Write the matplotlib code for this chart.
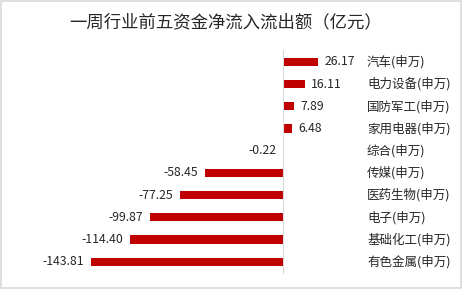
import matplotlib
matplotlib.use('Agg')
import matplotlib.pyplot as plt
from matplotlib.patches import Rectangle

plt.rcParams['font.family'] = ['Noto Sans CJK SC', 'DejaVu Sans']

# 数据
industries = ['汽车(申万)', '电力设备(申万)', '国防军工(申万)', '家用电器(申万)', '综合(申万)',
              '传媒(申万)', '医药生物(申万)', '电子(申万)', '基础化工(申万)', '有色金属(申万)']
values = [26.17, 16.11, 7.89, 6.48, -0.22, -58.45, -77.25, -99.87, -114.40, -143.81]
title = '一周行业前五资金净流入流出额（亿元）'

W, H = 462, 289
fig = plt.figure(figsize=(W / 100, H / 100), dpi=100)
fig.patches.append(Rectangle((0.002, 0.003), 0.996, 0.994, transform=fig.transFigure,
                             fill=False, edgecolor='#d9d9d9', linewidth=1.2))

ax = fig.add_axes([0, 1 - 274 / H, 1, 224 / H])
pos = list(range(len(values)))
ax.barh(pos, values, height=0.37, color='#c00000')
ax.axvline(0, color='#d9d9d9', linewidth=0.8)

px = 1.335  # pixels per unit
ax.set_xlim(-283 / px, (W - 283) / px)
ax.set_ylim(9.55, -0.54)
ax.axis('off')

for p, v, name in zip(pos, values, industries):
    if v >= 0:
        ax.text(v + 5, p, f'{v:.2f}', ha='left', va='center', fontsize=8.8, color='#262626')
    else:
        ax.text(v - 5, p, f'{v:.2f}', ha='right', va='center', fontsize=8.8, color='#262626')
    ax.text((367 - 283) / px, p, name, ha='left', va='center', fontsize=9, color='#262626')

fig.text(226 / W, 1 - 22 / H, title, ha='center', va='center', fontsize=12.5, color='#262626')

fig.savefig('out.png', dpi=100)
